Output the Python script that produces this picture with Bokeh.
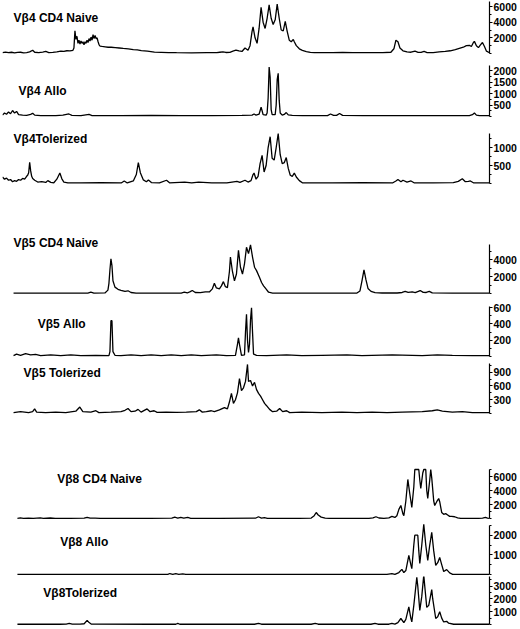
from bokeh.plotting import figure
from bokeh.layouts import column
from bokeh.models import FixedTicker, Range1d, Label
from bokeh.embed import file_html
from bokeh.resources import INLINE

# ---- traces: (position, fluorescence) pairs ----
V4_NAIVE = [(2,100),(5,180),(8,120),(11,160),(14,80),(17,140),(20,160),(23,90),(26,110),(29,200),(32,420),(34,160),(38,110),(42,180),(45,260),(48,110),(52,140),(56,200),(60,300),(63,280),(66,350),(69,330),(72,400),(73,700),(74,2900),(75,1800),(76,2200),(77,1300),(78,1700),(79,1200),(80,1600),(81,1300),(82,1500),(83,1100),(84,1500),(85,1300),(86,1700),(87,1400),(88,1900),(89,1600),(90,2100),(91,1700),(92,2400),(93,1900),(94,2300),(95,1900),(96,2000),(97,1500),(98,1100),(99,950),(101,900),(104,850),(107,800),(110,800),(114,750),(118,700),(122,650),(127,600),(132,500),(136,450),(140,380),(146,300),(153,170),(160,150),(167,120),(175,100),(190,90),(205,110),(215,100),(218,160),(221,220),(224,130),(228,150),(231,300),(234,420),(237,330),(240,260),(243,700),(246,420),(248,1000),(250,2800),(251,3400),(253,2000),(255,1300),(257,3200),(259,5900),(261,4000),(263,3200),(265,4500),(267,6200),(269,4500),(271,3700),(273,4300),(275,6300),(277,4500),(279,3000),(281,2900),(283,4100),(285,2800),(287,1700),(289,1500),(291,1800),(292,1500),(294,1000),(297,600),(300,400),(304,250),(308,150),(312,100),(330,110),(340,150),(350,100),(380,100),(388,160),(391,600),(393,1700),(395,1500),(397,700),(400,350),(404,200),(408,160),(412,300),(415,150),(418,150),(421,280),(424,120),(430,110),(436,200),(442,260),(447,350),(452,500),(456,650),(460,800),(463,1000),(466,1050),(468,900),(470,1400),(471,1550),(473,1000),(475,750),(477,1100),(479,1400),(481,900),(483,300),(486,100)]
V4_ALLO = [(2,60),(4,150),(6,100),(8,200),(10,120),(12,260),(14,150),(16,220),(18,80),(22,60),(26,50),(30,90),(32,140),(34,60),(40,40),(55,40),(62,60),(68,110),(71,50),(80,40),(88,90),(91,40),(120,40),(150,50),(180,40),(210,40),(240,50),(250,60),(252,110),(254,60),(257,100),(258,250),(259,400),(260,250),(261,80),(264,60),(265,150),(266,800),(267,2150),(268,1700),(269,300),(270,80),(273,80),(274,500),(275,1600),(276,1880),(277,700),(278,150),(280,60),(282,90),(284,170),(286,70),(290,50),(300,40),(325,40),(328,110),(331,50),(334,50),(337,130),(340,50),(360,40),(400,40),(440,40),(466,40),(469,80),(471,150),(473,60),(476,40),(486,40)]
V4_TOL = [(2,180),(4,120),(6,150),(8,90),(10,110),(12,50),(14,80),(16,60),(18,110),(20,90),(22,140),(24,120),(26,200),(27,230),(28,300),(29,590),(30,350),(31,200),(32,140),(34,90),(37,40),(41,50),(45,30),(47,80),(50,30),(53,20),(56,120),(59,290),(61,130),(63,40),(67,15),(80,15),(100,25),(120,15),(123,70),(126,15),(132,70),(135,250),(137,580),(139,300),(142,100),(145,50),(147,100),(150,25),(158,15),(165,90),(168,20),(183,40),(190,15),(197,40),(210,15),(225,20),(235,60),(238,30),(243,90),(246,40),(249,80),(251,250),(252,290),(254,120),(256,200),(258,550),(260,780),(262,320),(264,500),(266,1000),(268,1300),(270,700),(272,650),(274,1000),(276,1390),(278,800),(280,550),(282,580),(284,720),(286,420),(288,230),(290,200),(292,290),(294,180),(297,80),(300,20),(330,20),(360,25),(390,20),(393,70),(395,110),(398,50),(400,90),(404,40),(408,70),(411,20),(430,20),(450,25),(455,60),(459,130),(462,50),(465,60),(467,70),(470,20),(486,20)]

V5_NAIVE = [(13,50),(40,50),(70,50),(87,50),(90,150),(93,50),(104,70),(107,400),(108,1200),(109,2800),(110,4100),(111,3300),(112,1500),(114,750),(117,500),(120,380),(124,260),(127,320),(130,120),(135,50),(180,50),(183,150),(186,60),(189,220),(191,350),(194,120),(199,100),(204,200),(208,180),(211,550),(213,1200),(215,650),(218,550),(220,900),(222,1400),(224,800),(226,700),(228,2600),(229,4300),(231,2600),(233,1500),(235,2300),(237,5100),(239,3100),(241,2300),(243,3500),(245,5450),(247,4700),(249,5750),(251,4300),(253,3100),(255,2700),(258,1900),(260,1300),(262,900),(264,600),(267,150),(271,50),(300,50),(330,50),(355,50),(358,300),(360,1500),(362,2800),(364,1600),(366,600),(369,250),(373,100),(380,60),(395,60),(400,120),(403,250),(406,130),(410,200),(413,100),(418,350),(421,130),(424,120),(427,250),(430,70),(450,50),(487,50)]
V5_ALLO = [(13,10),(16,30),(20,15),(25,35),(30,20),(35,25),(40,10),(50,20),(60,10),(70,20),(80,10),(95,15),(108,10),(109,60),(110,440),(111,440),(112,60),(114,15),(120,10),(130,20),(140,10),(150,20),(160,10),(170,20),(180,10),(190,20),(200,10),(215,20),(225,10),(234,15),(236,150),(237,230),(238,150),(240,15),(243,20),(244,300),(245,520),(246,200),(247,50),(248,150),(249,450),(250,600),(251,300),(252,30),(255,15),(265,10),(285,20),(300,10),(320,15),(345,20),(360,10),(390,20),(420,10),(435,20),(450,15),(470,10),(487,10)]
V5_TOL = [(13,20),(20,40),(28,20),(32,40),(34,100),(36,30),(45,20),(55,30),(65,20),(75,50),(79,140),(82,40),(90,30),(95,60),(98,20),(110,30),(120,40),(124,70),(127,110),(130,40),(134,50),(137,90),(140,30),(146,100),(149,40),(153,60),(156,25),(165,30),(175,25),(185,30),(195,40),(198,80),(201,30),(205,40),(210,60),(213,40),(218,80),(223,130),(226,100),(228,250),(230,440),(232,220),(234,300),(236,450),(238,760),(240,500),(242,560),(244,700),(246,1070),(247,700),(249,720),(251,600),(253,680),(255,520),(257,440),(259,380),(261,300),(263,220),(265,170),(268,90),(271,40),(275,50),(278,110),(281,40),(285,60),(288,20),(300,30),(320,20),(340,30),(355,20),(370,30),(385,20),(400,30),(420,40),(430,60),(435,80),(440,50),(450,30),(460,40),(470,20),(487,20)]

V8_NAIVE = [(17,30),(20,80),(23,30),(28,60),(33,30),(40,80),(43,30),(50,70),(55,30),(70,30),(84,40),(87,150),(90,40),(95,60),(100,30),(150,30),(172,40),(175,180),(178,60),(181,170),(184,50),(188,150),(191,30),(220,30),(256,40),(259,250),(262,60),(265,120),(268,30),(300,30),(312,60),(315,400),(317,860),(319,500),(322,200),(326,60),(330,30),(370,30),(374,80),(377,250),(380,70),(385,30),(390,100),(393,300),(396,150),(398,400),(400,1300),(402,1860),(404,700),(405,400),(407,2500),(409,5580),(411,3500),(413,1570),(415,4500),(416,7000),(420,7000),(421,5500),(422,4300),(424,6500),(425,7000),(427,7000),(428,4000),(429,2860),(431,5500),(432,7000),(433,5800),(435,2500),(436,1860),(438,2400),(440,2860),(441,2400),(443,860),(445,600),(447,700),(449,500),(451,300),(453,300),(456,250),(459,100),(462,30),(480,30),(484,60),(487,150),(489,40),(491,30)]
V8_ALLO = [(17,10),(100,10),(168,10),(170,50),(173,10),(176,40),(179,10),(183,30),(186,10),(300,10),(388,10),(393,50),(396,10),(400,100),(403,260),(405,100),(407,200),(410,975),(412,500),(413,300),(415,1500),(416,2000),(419,2000),(420,1200),(421,565),(423,1500),(425,2560),(427,1500),(429,720),(431,1500),(433,2150),(435,1200),(437,460),(439,600),(441,870),(443,500),(445,150),(448,250),(451,80),(454,10),(491,10)]
V8_TOL = [(17,20),(60,20),(66,30),(69,80),(72,30),(80,30),(84,60),(87,320),(89,150),(91,40),(95,30),(150,20),(176,20),(178,80),(180,20),(255,20),(259,80),(262,20),(312,20),(316,80),(319,20),(372,20),(376,80),(379,20),(390,20),(393,80),(396,30),(399,150),(402,470),(405,150),(407,400),(410,1380),(412,500),(413,200),(415,1500),(418,3700),(419,3000),(421,1100),(423,2200),(425,3870),(426,3000),(428,1340),(430,1500),(433,2730),(434,2000),(437,470),(439,600),(441,1000),(443,500),(445,200),(448,250),(450,100),(455,20),(491,20)]

LABELS = ["V\u03b24 CD4 Naive", "V\u03b24 Allo", "V\u03b24Tolerized",
          "V\u03b25 CD4 Naive", "V\u03b25 Allo", "V\u03b25 Tolerized",
          "V\u03b28 CD4 Naive", "V\u03b28 Allo", "V\u03b28Tolerized"]
TICKS = [[2000, 4000, 6000], [500, 1000, 1500, 2000], [500, 1000],
         [2000, 4000], [200, 400, 600], [300, 600, 900],
         [2000, 4000, 6000], [1000, 2000], [1000, 2000, 3000]]
MINOR = [[0, 1000, 3000, 5000], [0, 250, 750, 1250, 1750], [0, 250, 750, 1250],
         [0, 1000, 3000, 5000], [0, 100, 300, 500], [0, 150, 450, 750, 1050],
         [0, 1000, 3000, 5000, 7000], [0, 500, 1500, 2500], [0, 500, 1500, 2500, 3500]]
AXIS_TOP = [6700, 2200, 1400, 5800, 610, 1080, 7000, 2500, 3870]
SERIES = [V4_NAIVE, V4_ALLO, V4_TOL, V5_NAIVE, V5_ALLO, V5_TOL, V8_NAIVE, V8_ALLO, V8_TOL]

# layout geometry (page pixels); Bokeh aligns frames in a column, so all
# frames share the same pixel box and each group's x-range sets its extent.
TOTAL_W = 520
FRAME_L, FRAME_R = 2, 489
FONT = "Liberation Sans"
XR = [(2, 486)] * 3 + [(2, 487)] * 3 + [(2, 491)] * 3
TOPS = [0, 55, 118, 185, 295, 358, 415, 520, 576]
BOTTOMS = [55, 118, 185, 295, 358, 415, 520, 576, 626]
BASES = [53, 116, 183, 293, 356, 413, 518, 574, 624]
UPP = [127.7, 43.5, 27.8, 118.0, 12.3, 21.8, 142.9, 50.9, 78.3]
LAB_POS = [(13, 17), (18, 90), (13, 138), (13, 242), (37, 323), (23, 372),
           (57, 478), (60, 541), (43, 592)]

figs = []
for i in range(9):
    fh = BOTTOMS[i] - TOPS[i]
    x0, x1 = XR[i]
    upp = UPP[i]
    p = figure(width=TOTAL_W, height=fh, frame_width=FRAME_R - FRAME_L, frame_height=fh,
               x_range=Range1d(x0, x1),
               y_range=Range1d(-(BOTTOMS[i] - BASES[i]) * upp, (BASES[i] - TOPS[i]) * upp),
               x_axis_location=None, y_axis_location="right",
               toolbar_location=None, output_backend="svg",
               min_border_left=FRAME_L, min_border_right=TOTAL_W - FRAME_R,
               min_border_top=0, min_border_bottom=0,
               outline_line_color=None, background_fill_color="white",
               border_fill_color="white")
    p.grid.visible = False
    ax = p.yaxis[0]
    ax.ticker = FixedTicker(ticks=TICKS[i], minor_ticks=MINOR[i])
    ax.bounds = (0, AXIS_TOP[i])
    ax.axis_line_width = 1.2
    ax.major_tick_in = 0
    ax.major_tick_out = 3
    ax.minor_tick_in = 0
    ax.minor_tick_out = 2
    ax.major_tick_line_width = 1.1
    ax.major_label_standoff = 1
    ax.major_label_text_font = FONT
    ax.major_label_text_font_style = "bold"
    ax.major_label_text_font_size = "10.5px"
    ax.major_label_text_color = "black"
    xs = [pt[0] for pt in SERIES[i]]
    ys = [pt[1] for pt in SERIES[i]]
    p.line(xs, ys, line_color="black", line_width=1.3)
    lx, ly = LAB_POS[i]
    p.add_layout(Label(x=lx, y=(BASES[i] - ly) * upp, text=LABELS[i],
                       text_font=FONT, text_font_style="bold",
                       text_font_size="12px", text_baseline="middle",
                       text_align="left", text_color="black"))
    figs.append(p)

layout = column(*figs, spacing=0)
open("out.html", "w").write(file_html(layout, INLINE))
